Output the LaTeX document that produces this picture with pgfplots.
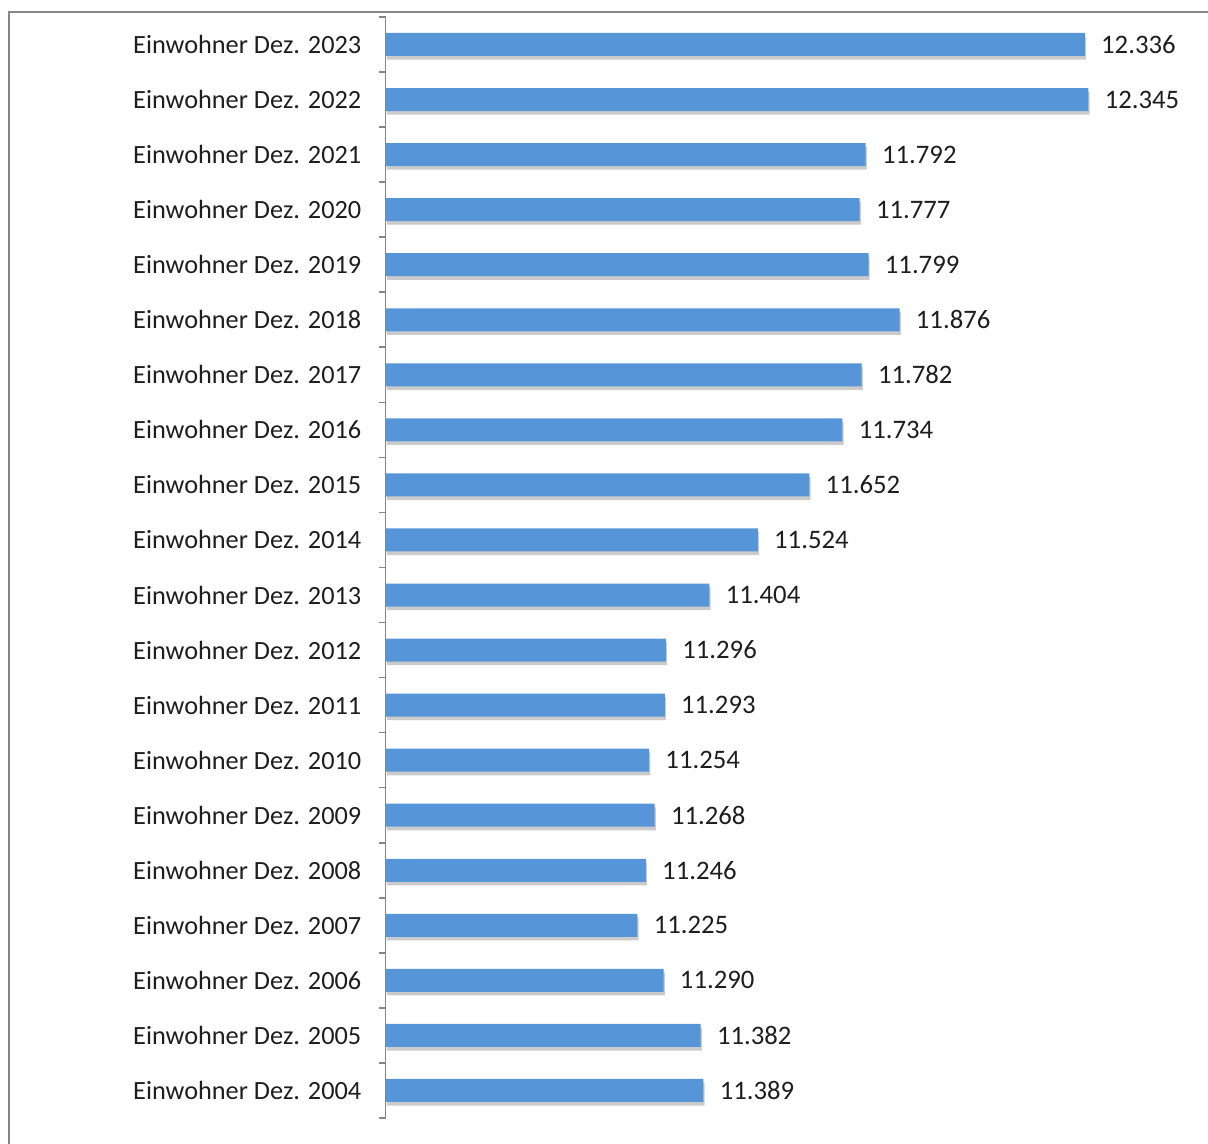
\documentclass[border=0pt]{standalone}
\usepackage{fontspec}
\setmainfont{Carlito}
\usepackage{pgfplots}
\pgfplotsset{compat=1.18}
\usetikzlibrary{shadows}

\definecolor{barblue}{RGB}{86,149,215}
\definecolor{axisgray}{RGB}{134,134,134}
\definecolor{txt}{RGB}{30,30,30}

\begin{document}
\begin{tikzpicture}[x=1bp,y=1bp]
  \begin{axis}[
      at={(0,0)}, anchor=south west,
      scale only axis,
      width=402.7bp, height=550.5bp,
      xbar, bar width=11.5bp,
      xmin=10600, xmax=12600,
      ymin=-0.5, ymax=19.5,
      axis x line=none,
      axis y line*=left,
      axis line style={axisgray, line width=0.8bp},
      ytick={0,...,19},
      yticklabels={Einwohner Dez. 2004, Einwohner Dez. 2005, Einwohner Dez. 2006,
        Einwohner Dez. 2007, Einwohner Dez. 2008, Einwohner Dez. 2009,
        Einwohner Dez. 2010, Einwohner Dez. 2011, Einwohner Dez. 2012,
        Einwohner Dez. 2013, Einwohner Dez. 2014, Einwohner Dez. 2015,
        Einwohner Dez. 2016, Einwohner Dez. 2017, Einwohner Dez. 2018,
        Einwohner Dez. 2019, Einwohner Dez. 2020, Einwohner Dez. 2021,
        Einwohner Dez. 2022, Einwohner Dez. 2023},
      major tick length=0pt,
      extra y ticks={-0.5,0.5,...,19.5},
      extra y tick labels={},
      extra y tick style={major tick length=3.5bp, tick align=outside,
        tick style={axisgray, line width=0.8bp}},
      yticklabel style={font=\fontsize{13.2}{15}\selectfont, text=txt,
        inner sep=0pt, xshift=-12bp},
      nodes near coords,
      nodes near coords style={font=\fontsize{13.4}{15}\selectfont, text=txt,
        anchor=west, inner sep=0pt, xshift=8bp,
        /pgf/number format/.cd, 1000 sep={.}, fixed, assume math mode=true},
      clip=false,
    ]
    \addplot[fill=barblue, draw=none,
      drop shadow={shadow xshift=0.6bp, shadow yshift=-1.8bp, opacity=0.45,
        fill=black!45}]
      coordinates {
        (11389,0) (11382,1) (11290,2) (11225,3) (11246,4)
        (11268,5) (11254,6) (11293,7) (11296,8) (11404,9)
        (11524,10) (11652,11) (11734,12) (11782,13) (11876,14)
        (11799,15) (11777,16) (11792,17) (12345,18) (12336,19)
      };
  \end{axis}
  % chart frame (only left and top edges lie inside the image)
  \draw[axisgray, line width=1bp] (-188.1,-13) -- (-188.1,553.2) -- (411.15,553.2);
  \pgfresetboundingbox
  \path[use as bounding box] (-192.85,-13) rectangle (411.15,559);
\end{tikzpicture}
\end{document}
